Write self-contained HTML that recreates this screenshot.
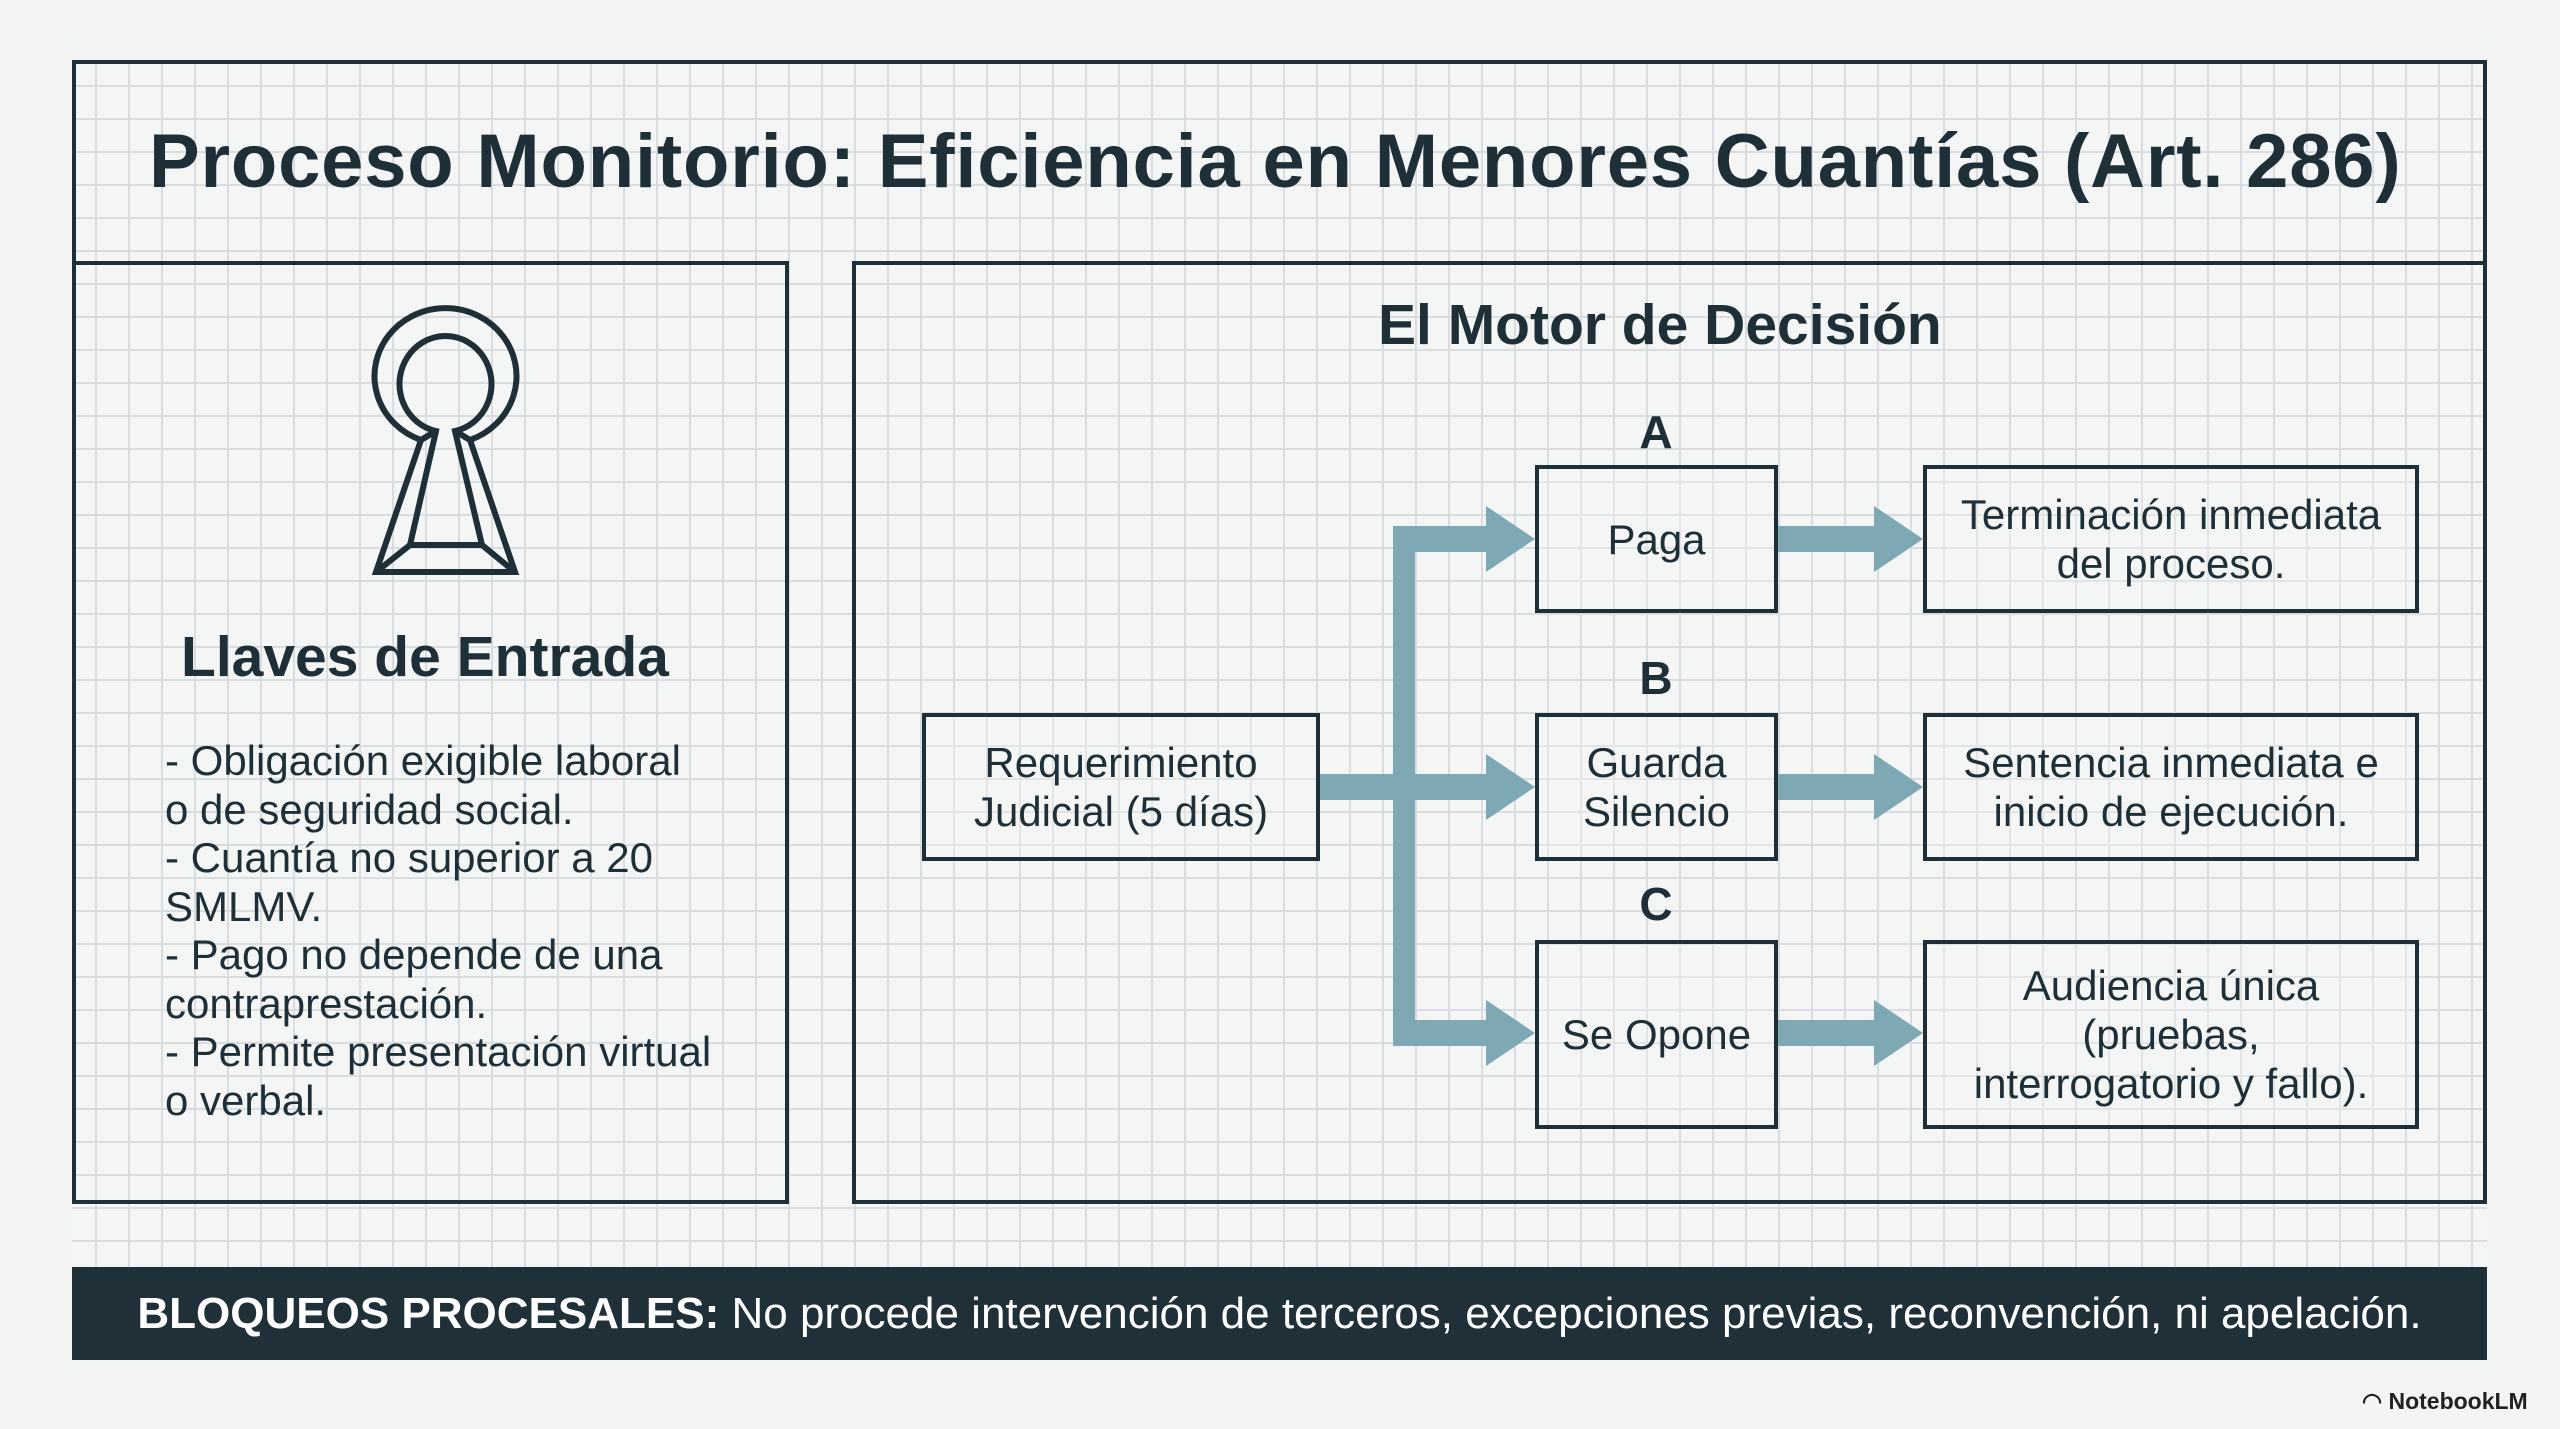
<!DOCTYPE html>
<html><head><meta charset="utf-8"><style>
body{margin:0;width:2560px;height:1429px;background:#f3f4f4;position:relative;overflow:hidden;font-family:"Liberation Sans",sans-serif;color:#1e2f38}
.grid{position:absolute;left:72px;top:60px;width:2415px;height:1207px;background-color:#f4f5f5;background-image:linear-gradient(#dadddf 2px,transparent 2px),linear-gradient(90deg,#dadddf 2px,transparent 2px);background-size:33px 33px;background-position:-10px -8px}
.b{position:absolute;border:4px solid #1e2f38;box-sizing:border-box}
.t{position:absolute;white-space:nowrap}
.box{position:absolute;border:4px solid #1e2f38;box-sizing:border-box;display:flex;align-items:center;justify-content:center;text-align:center;font-size:42px;line-height:49px;background:rgba(244,245,245,0.3)}
.lbl{position:absolute;font-weight:bold;font-size:46px;width:100px;text-align:center}
</style></head><body>
<div class="grid"></div>
<div class="b" style="left:72px;top:60px;width:2415px;height:205px;border-bottom:none"></div>
<div class="b" style="left:72px;top:261px;width:717px;height:943px"></div>
<div class="b" style="left:852px;top:261px;width:1635px;height:943px"></div>
<div class="t" style="left:149px;top:118px;font-size:76px;font-weight:bold;letter-spacing:0.8px">Proceso Monitorio: Eficiencia en Menores Cuantías (Art. 286)</div>
<svg style="position:absolute;left:0;top:0" width="2560" height="1429">
<g fill="none" stroke="#1e2f38" stroke-width="6" stroke-linejoin="miter">
<path d="M421 440 A71 68 0 1 1 470 440 L515 572 L376 572 Z"/>
<path d="M436 431 A46 48 0 1 1 455 431 L482 545 L410 545 Z"/>
<path d="M410 545 L376 572 M482 545 L515 572 M436 431 L421 440 M455 431 L470 440"/>
</g>
<g fill="#7ea9b4">
<rect x="1319" y="774" width="90" height="26"/>
<rect x="1393" y="526" width="22" height="520"/>
<rect x="1393" y="526" width="100" height="26"/>
<rect x="1393" y="774" width="100" height="26"/>
<rect x="1393" y="1020" width="100" height="26"/>
<polygon points="1486,506 1535,539 1486,572"/>
<polygon points="1486,754 1535,787 1486,820"/>
<polygon points="1486,1000 1535,1033 1486,1066"/>
<rect x="1776" y="526" width="100" height="26"/>
<rect x="1776" y="774" width="100" height="26"/>
<rect x="1776" y="1020" width="100" height="26"/>
<polygon points="1874,506 1923,539 1874,572"/>
<polygon points="1874,754 1923,787 1874,820"/>
<polygon points="1874,1000 1923,1033 1874,1066"/>
</g>
</svg>
<div class="t" style="left:181px;top:624px;font-size:57px;font-weight:bold">Llaves de Entrada</div>
<div class="t" style="left:165px;top:737px;font-size:42px;line-height:48.5px">- Obligación exigible laboral<br>o de seguridad social.<br>- Cuantía no superior a 20<br>SMLMV.<br>- Pago no depende de una<br>contraprestación.<br>- Permite presentación virtual<br>o verbal.</div>
<div class="t" style="left:1378px;top:292px;font-size:57px;font-weight:bold">El Motor de Decisión</div>
<div class="lbl" style="left:1606px;top:405px">A</div>
<div class="lbl" style="left:1606px;top:651px">B</div>
<div class="lbl" style="left:1606px;top:877px">C</div>
<div class="box" style="left:922px;top:713px;width:398px;height:148px">Requerimiento<br>Judicial (5 días)</div>
<div class="box" style="left:1535px;top:465px;width:243px;height:148px">Paga</div>
<div class="box" style="left:1535px;top:713px;width:243px;height:148px">Guarda<br>Silencio</div>
<div class="box" style="left:1535px;top:940px;width:243px;height:189px">Se Opone</div>
<div class="box" style="left:1923px;top:465px;width:496px;height:148px">Terminación inmediata<br>del proceso.</div>
<div class="box" style="left:1923px;top:713px;width:496px;height:148px">Sentencia inmediata e<br>inicio de ejecución.</div>
<div class="box" style="left:1923px;top:940px;width:496px;height:189px">Audiencia única<br>(pruebas,<br>interrogatorio y fallo).</div>
<div style="position:absolute;left:72px;top:1267px;width:2415px;height:93px;background:#1f3039;color:#fff;font-size:44px;line-height:93px;text-align:center;white-space:nowrap"><b>BLOQUEOS PROCESALES:</b> No procede intervención de terceros, excepciones previas, reconvención, ni apelación.</div>
<div class="t" style="left:2362px;top:1388px;font-size:23px;color:#222;font-weight:bold">◠ NotebookLM</div>
</body></html>
